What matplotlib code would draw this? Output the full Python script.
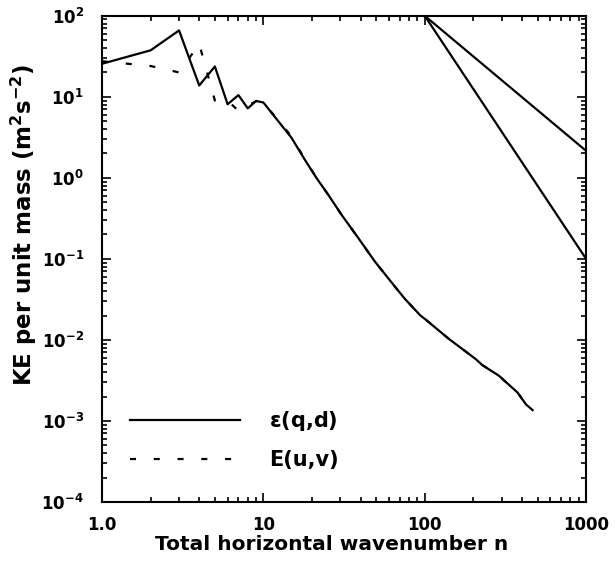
import matplotlib
matplotlib.use("Agg")
import matplotlib.pyplot as plt
import numpy as np

# Low-wavenumber part (n = 1..10)
n_low = [1, 2, 3, 4, 5, 6, 7, 8, 9, 10]
eps_low = [25.6, 37.5, 66.0, 13.8, 23.7, 8.1, 10.5, 7.2, 8.9, 8.5]
E_low = [27.5, 24.0, 20.0, 45.0, 9.0, 9.0, 6.7, 7.8, 8.8, 8.4]

# Tail (both spectra nearly coincide)
n_tail = [10, 12.3, 14.9, 18, 21.3, 25.2, 30.5, 38.8, 49.2, 65.6, 75.4, 94, 100,
          141, 207, 227, 289, 303, 376, 424, 466]
eps_tail = [8.5, 5.06, 3.14, 1.69, 1.0, 0.62, 0.35, 0.18, 0.092, 0.045, 0.032,
            0.020, 0.0182, 0.0103, 0.0058, 0.0049, 0.0036, 0.0033, 0.00224, 0.0016, 0.00136]
E_tail = [8.4, 5.2, 3.25, 1.72, 1.0, 0.62, 0.35, 0.18, 0.092, 0.045, 0.032,
          0.020, 0.0182, 0.0103, 0.0058, 0.0049, 0.0036, 0.0033, 0.00224, 0.0016, 0.00136]

# Reference slopes from (100, 100)
ref_n = [100, 1000]
ref_53 = [100, 100 * 10 ** (-5 / 3)]
ref_3 = [100, 0.1]

x_ticks = [1, 10, 100, 1000]
x_ticklabels = ["1.0", "10", "100", "1000"]

plt.rcParams['font.family'] = ['DejaVu Sans']
plt.rcParams['mathtext.default'] = 'regular'

fig = plt.figure(figsize=(6.15, 5.64), dpi=100)
ax = fig.add_axes([0.166, 0.110, 0.787, 0.862])

lw = 1.6
ax.plot(n_low + n_tail[1:], eps_low + eps_tail[1:], color='black', lw=lw, ls='-',
        label=r'$\varepsilon$(q,d)')
ax.plot(n_low + n_tail[1:], E_low + E_tail[1:], color='black', lw=lw, ls=(0, (2.7, 8)),
        label='E(u,v)')
ax.plot(ref_n, ref_53, color='black', lw=lw)
ax.plot(ref_n, ref_3, color='black', lw=lw)

ax.set_xscale('log')
ax.set_yscale('log')
ax.set_xlim(1, 1000)
ax.set_ylim(1e-4, 1e2)
ax.set_xticks(x_ticks)
ax.set_xticklabels(x_ticklabels)

for s in ax.spines.values():
    s.set_linewidth(1.5)
ax.tick_params(which='both', direction='in', top=True, right=True, width=1.2)
ax.tick_params(which='major', length=6.5, labelsize=12)
ax.tick_params(which='minor', length=3.8)
ax.tick_params(axis='x', which='major', pad=10)
ax.tick_params(axis='y', which='major', pad=13)
for lab in ax.get_xticklabels() + ax.get_yticklabels():
    lab.set_fontweight('bold')

ax.set_xlabel('Total horizontal wavenumber n', fontsize=14.5, fontweight='bold')
ax.xaxis.set_label_coords(0.475, -0.068)
ax.set_ylabel(r'KE per unit mass (m$^{2}$s$^{-2}$)', fontsize=16.5, fontweight='bold')
ax.yaxis.set_label_coords(-0.13, 0.57)

leg = ax.legend(loc='lower left', bbox_to_anchor=(0.0197, 0.0265), frameon=False,
                handlelength=5.25, handletextpad=1.4, labelspacing=0.82,
                prop={'size': 15, 'weight': 'bold'})

fig.savefig('out.png', dpi=100)
